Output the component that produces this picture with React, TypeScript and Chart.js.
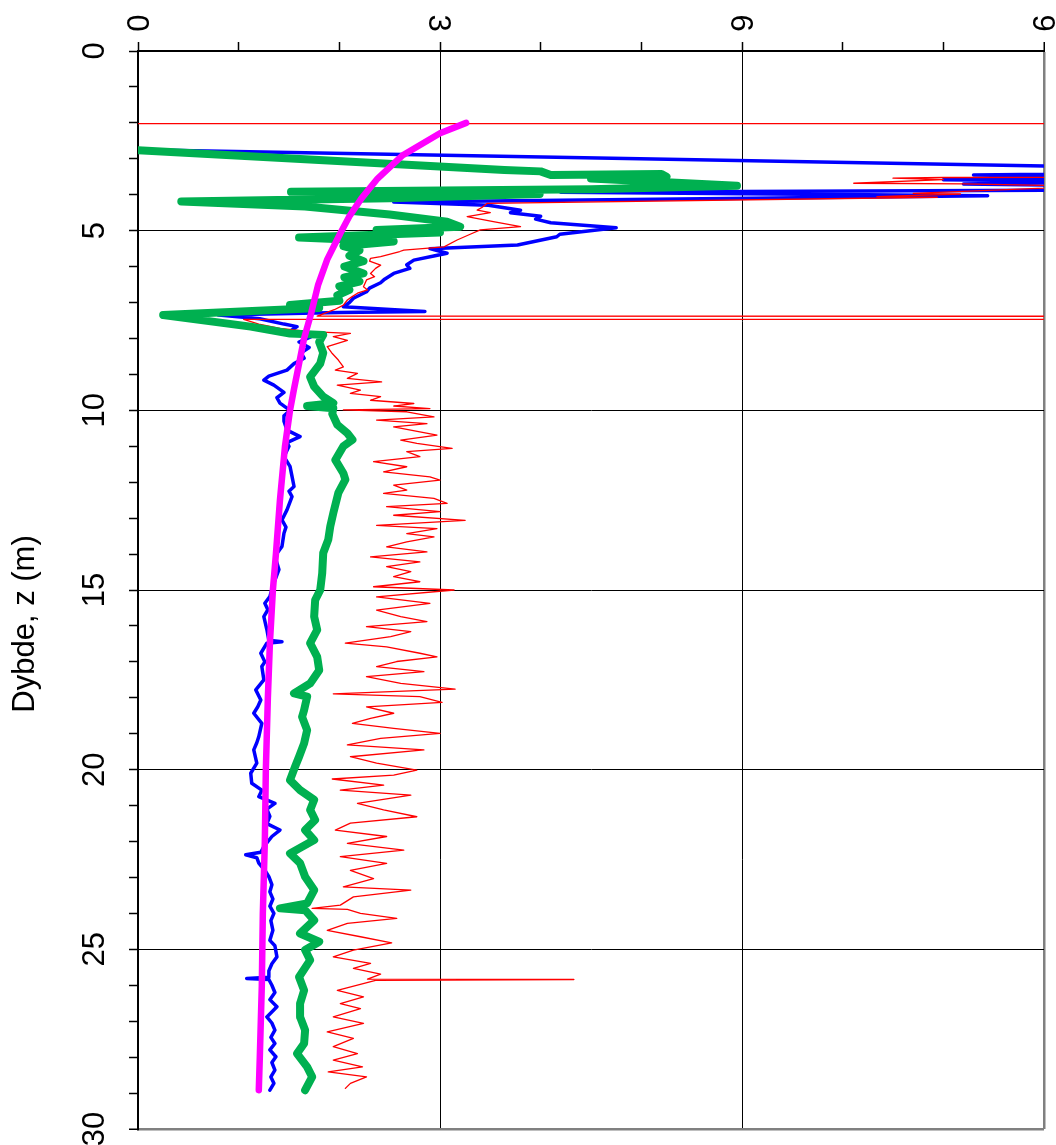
import React, { useEffect, useRef } from "react";
import { Chart, registerables } from "chart.js";

Chart.register(...registerables);

// ---- tick labels / title ----
const xTickLabels = [0, 3, 6, 9];
const yTickLabels = [0, 5, 10, 15, 20, 25, 30];
const yTitle = "Dybde, z (m)";

// ---- blue series ----
const blueValue = [
  0, 12, 8.3, 9.6, 8.0, 9.8, 8.2, 10, 10, 4.2, 8.44, 2.54, 3.48, 3.8, 3.7, 4.0, 3.95, 4.1, 4.75, 4.19, 4.16, 3.77,
  2.9, 3.07, 2.95, 2.74, 2.67, 2.7, 2.54, 2.45, 2.41, 2.3, 2.27, 2.14, 2.1, 2.04, 2.85, 2.0, 0.8, 1.21, 1.45,
  1.58, 1.51, 1.72, 1.6, 1.7, 1.62, 1.65, 1.55, 1.48, 1.3, 1.25, 1.35, 1.45, 1.38, 1.41, 1.51, 1.45, 1.45,
  1.48, 1.61, 1.48, 1.5, 1.45, 1.51, 1.53, 1.55, 1.5, 1.53, 1.48, 1.43, 1.47, 1.45, 1.43, 1.36, 1.4, 1.35,
  1.31, 1.26, 1.29, 1.25, 1.28, 1.3, 1.43, 1.28, 1.22, 1.26, 1.23, 1.25, 1.17, 1.22, 1.19, 1.15, 1.23, 1.2,
  1.18, 1.15, 1.18, 1.12, 1.13, 1.23, 1.2, 1.36, 1.28, 1.31, 1.28, 1.41, 1.33, 1.25, 1.22, 1.07, 1.18, 1.2,
  1.26, 1.3, 1.33, 1.31, 1.34, 1.31, 1.35, 1.32, 1.34, 1.31, 1.36, 1.38, 1.33, 1.3, 1.3, 1.08, 1.3, 1.33,
  1.36, 1.31, 1.38, 1.28, 1.33, 1.36, 1.32, 1.36, 1.31, 1.37, 1.33, 1.36, 1.32, 1.35, 1.31,
];
const blueDepth = [
  2.75, 3.35, 3.45, 3.5, 3.58, 3.63, 3.7, 3.77, 3.86, 3.93, 4.03, 4.2, 4.29, 4.43, 4.5, 4.6, 4.68, 4.78, 4.92, 5.1,
  5.17, 5.4, 5.5, 5.63, 5.7, 5.82, 5.95, 6.05, 6.19, 6.35, 6.45, 6.6, 6.7, 6.88, 7.0, 7.12, 7.25, 7.28, 7.35,
  7.45, 7.6, 7.67, 7.8, 7.95, 8.1, 8.25, 8.4, 8.55, 8.7, 8.88, 9.05, 9.16, 9.3, 9.5, 9.65, 9.8, 10.0, 10.15,
  10.3, 10.55, 10.73, 10.9, 11.0, 11.29, 11.56, 11.84, 12.12, 12.25, 12.4, 12.77, 13.05, 13.25, 13.42, 13.79,
  14.06, 14.43, 14.8, 15.18, 15.37, 15.55, 15.74, 16.1, 16.4, 16.44, 16.48, 16.76, 17.0, 17.13, 17.5, 17.78,
  18.06, 18.25, 18.43, 18.71, 19.08, 19.25, 19.45, 19.82, 20.1, 20.38, 20.57, 20.75, 20.94, 21.1, 21.3, 21.5,
  21.68, 21.86, 22.14, 22.3, 22.37, 22.45, 22.6, 22.8, 22.98, 23.2, 23.4, 23.6, 23.8, 24.0, 24.2, 24.47, 24.75,
  24.9, 25.21, 25.4, 25.6, 25.78, 25.81, 25.84, 26.0, 26.2, 26.4, 26.6, 26.88, 27.05, 27.25, 27.45, 27.62,
  27.8, 27.99, 28.15, 28.36, 28.55, 28.73, 28.92,
];

// ---- green series ----
const greenValue = [
  0, 3.64, 4.0, 4.1, 5.2, 5.25, 4.5, 5.95, 4.5, 1.52, 3.99, 2.5, 0.43, 1.66, 2.5, 3.07, 3.2, 2.37, 3.0, 1.6,
  2.54, 2.04, 2.2, 2.1, 2.24, 2.05, 2.24, 2.05, 2.2, 2.0, 2.1, 1.98, 2.0, 1.51, 1.8, 0.25, 1.12, 1.51, 1.84,
  1.8, 1.84, 1.81, 1.71, 1.75, 1.84, 1.94, 1.68, 1.94, 1.93, 1.98, 2.08, 2.13, 2.04, 1.96, 2.04, 2.06, 1.99,
  1.94, 1.91, 1.89, 1.84, 1.83, 1.81, 1.76, 1.75, 1.78, 1.71, 1.78, 1.8, 1.71, 1.55, 1.68, 1.65, 1.63, 1.68,
  1.65, 1.6, 1.56, 1.51, 1.61, 1.75, 1.71, 1.76, 1.66, 1.75, 1.51, 1.61, 1.66, 1.75, 1.68, 1.41, 1.66, 1.75,
  1.61, 1.8, 1.66, 1.71, 1.6, 1.65, 1.61, 1.61, 1.66, 1.65, 1.58, 1.68, 1.73, 1.66,
];
const greenDepth = [
  2.76, 3.31, 3.35, 3.45, 3.42, 3.5, 3.55, 3.75, 3.85, 3.92, 3.98, 4.1, 4.19, 4.33, 4.55, 4.75, 4.89, 4.98,
  5.05, 5.19, 5.3, 5.43, 5.55, 5.7, 5.85, 6.0, 6.19, 6.3, 6.42, 6.55, 6.65, 6.8, 6.95, 7.07, 7.15, 7.35, 7.67,
  7.86, 7.9, 8.1, 8.4, 8.7, 9.07, 9.34, 9.62, 9.8, 9.88, 9.94, 10.1, 10.4, 10.64, 10.82, 11.0, 11.38, 11.75,
  11.93, 12.3, 12.86, 13.23, 13.6, 13.97, 14.53, 15.0, 15.28, 15.74, 16.11, 16.48, 16.86, 17.23, 17.6, 17.88,
  17.97, 18.34, 18.53, 18.9, 19.27, 19.64, 19.92, 20.29, 20.57, 20.84, 21.12, 21.4, 21.68, 21.96, 22.33,
  22.6, 22.98, 23.35, 23.72, 23.86, 23.91, 24.19, 24.56, 24.79, 25.02, 25.3, 25.77, 26.14, 26.51, 26.88,
  27.25, 27.62, 27.9, 28.27, 28.55, 28.92,
];

// ---- red series ----
const redValue = [
  0, 40, 40, 8.0, 7.5, 8.0, 7.11, 8.2, 9.5, 7.7, 8.17, 7.34, 7.94, 3.47, 3.42, 3.37, 3.5, 3.27, 3.4, 3.53, 3.8,
  3.4, 3.3, 3.17, 3.04, 2.64, 2.6, 2.41, 2.31, 2.3, 2.41, 2.36, 2.31, 2.35, 2.27, 2.24, 2.28, 2.18, 2.12, 2.08,
  2.04, 1.95, 1.78, 40, 40, 1.05, 1.2, 1.41, 1.71, 2.11, 1.94, 2.08, 1.88, 1.93, 1.99, 2.04, 1.96, 2.18, 2.08,
  2.42, 1.98, 2.21, 2.11, 2.41, 2.31, 2.74, 2.54, 2.9, 2.04, 2.67, 2.94, 2.37, 2.87, 2.54, 2.8, 2.97, 2.61,
  2.77, 3.12, 2.67, 2.8, 2.34, 2.67, 2.44, 2.9, 3.0, 2.54, 2.67, 2.44, 2.94, 3.07, 2.47, 3.0, 2.54, 3.25, 2.37,
  2.97, 2.67, 2.94, 2.67, 2.47, 2.87, 2.31, 2.8, 2.47, 2.71, 2.54, 2.8, 2.34, 3.14, 2.37, 2.9, 2.37, 2.61,
  2.87, 2.27, 2.71, 2.51, 2.06, 2.47, 2.8, 2.97, 2.57, 2.37, 2.84, 2.27, 2.61, 3.15, 1.94, 2.8, 3.02, 2.27,
  2.54, 2.31, 2.13, 2.54, 3.0, 2.41, 2.08, 2.84, 2.11, 2.37, 2.77, 2.54, 1.93, 2.44, 2.01, 2.71, 2.18, 2.44,
  2.77, 2.11, 1.96, 2.47, 2.08, 2.64, 2.01, 2.47, 2.11, 2.34, 2.04, 2.71, 2.14, 2.01, 1.73, 2.08, 2.21, 2.57,
  2.08, 1.88, 2.21, 2.52, 2.14, 1.94, 2.31, 2.14, 2.41, 2.28, 4.33, 2.37, 1.98, 2.24, 2.01, 2.21, 1.94, 2.24,
  1.88, 2.14, 1.94, 2.18, 1.94, 2.23, 1.89, 2.27, 2.11, 2.06,
];
const redDepth = [
  2.02, 2.03, 3.4, 3.52, 3.54, 3.58, 3.68, 3.7, 3.76, 3.96, 3.98, 4.05, 4.07, 4.24, 4.35, 4.43, 4.5, 4.61,
  4.68, 4.75, 4.89, 4.98, 5.1, 5.26, 5.45, 5.54, 5.58, 5.72, 5.77, 5.85, 5.96, 6.05, 6.19, 6.28, 6.37, 6.56,
  6.65, 6.74, 6.85, 6.93, 7.07, 7.2, 7.38, 7.39, 7.45, 7.47, 7.6, 7.72, 7.81, 7.86, 7.95, 8.05, 8.23, 8.42,
  8.6, 8.79, 8.88, 8.97, 9.11, 9.21, 9.3, 9.44, 9.53, 9.62, 9.72, 9.81, 9.88, 9.95, 9.99, 10.04, 10.18,
  10.27, 10.37, 10.46, 10.6, 10.69, 10.83, 10.92, 11.06, 11.15, 11.29, 11.43, 11.57, 11.71, 11.85, 11.94,
  12.08, 12.22, 12.31, 12.45, 12.59, 12.68, 12.82, 12.92, 13.06, 13.2, 13.29, 13.43, 13.52, 13.66, 13.8,
  13.94, 14.08, 14.22, 14.35, 14.49, 14.63, 14.77, 14.91, 15.0, 15.19, 15.37, 15.56, 15.74, 15.88, 16.02,
  16.16, 16.3, 16.48, 16.58, 16.76, 16.86, 16.99, 17.13, 17.27, 17.41, 17.6, 17.76, 17.89, 17.97, 18.13,
  18.25, 18.43, 18.57, 18.71, 18.85, 18.99, 19.13, 19.31, 19.45, 19.64, 19.82, 20.01, 20.15, 20.26, 20.43,
  20.57, 20.71, 20.94, 21.12, 21.31, 21.49, 21.68, 21.86, 22.05, 22.24, 22.42, 22.61, 22.8, 23.03, 23.26,
  23.35, 23.54, 23.77, 23.86, 23.89, 24.0, 24.14, 24.28, 24.47, 24.65, 24.82, 25.02, 25.21, 25.39, 25.53,
  25.69, 25.83, 25.84, 25.86, 26.14, 26.32, 26.51, 26.65, 26.88, 27.06, 27.3, 27.48, 27.71, 27.9, 28.08,
  28.27, 28.41, 28.55, 28.73, 28.87,
];

// ---- magenta (smooth) series ----
const magentaValue = [
  3.26, 3.0, 2.63, 2.38, 2.22, 2.1, 2.01, 1.88, 1.79, 1.72, 1.65, 1.6, 1.55, 1.51, 1.46, 1.41, 1.37, 1.34,
  1.31, 1.29, 1.27, 1.26, 1.24, 1.23, 1.21, 1.2,
];
const magentaDepth = [
  2.0, 2.29, 2.9, 3.55, 4.1, 4.6, 5.07, 5.8, 6.5, 7.3, 8.0, 8.7, 9.4, 10.0, 11.0, 12.5, 14.0, 15.0, 16.5,
  18.0, 20.0, 22.0, 24.0, 26.0, 28.0, 28.92,
];

const toPoints = (vals: number[], depths: number[]) =>
  depths.map((d, i) => ({ x: vals[i], y: d }));

const FONT = '31px "Liberation Sans", Arial, sans-serif';

const labelPlugin = {
  id: "rotatedLabels",
  afterDraw(chart: any) {
    const ctx = chart.ctx;
    const xs = chart.scales.x;
    const ys = chart.scales.y;
    ctx.save();
    ctx.fillStyle = "#000";
    ctx.font = FONT;
    ctx.textAlign = "center";
    ctx.textBaseline = "alphabetic";
    xTickLabels.forEach((v) => {
      const px = xs.getPixelForValue(v);
      ctx.save();
      ctx.translate(px - 11, xs.top + 23);
      ctx.rotate(Math.PI / 2);
      ctx.fillText(String(v), 0, 0);
      ctx.restore();
    });
    yTickLabels.forEach((v) => {
      const py = ys.getPixelForValue(v);
      ctx.save();
      ctx.translate(103.5, py);
      ctx.rotate(-Math.PI / 2);
      ctx.fillText(String(v), 0, 0);
      ctx.restore();
    });
    ctx.save();
    ctx.translate(33.5, (ys.top + ys.bottom) / 2 + 34);
    ctx.rotate(-Math.PI / 2);
    ctx.fillText(yTitle, 0, 0);
    ctx.restore();
    ctx.restore();
  },
};

export default function App() {
  const canvasRef = useRef<HTMLCanvasElement | null>(null);

  useEffect(() => {
    if (!canvasRef.current) return;
    const line = (label: string, vals: number[], depths: number[], color: string, width: number) => ({
      label,
      data: toPoints(vals, depths),
      showLine: true,
      borderColor: color,
      backgroundColor: color,
      borderWidth: width,
      pointRadius: 0,
      pointHoverRadius: 0,
      tension: 0,
      borderCapStyle: "round",
      borderJoinStyle: "round",
    });
    const chart = new Chart(canvasRef.current, {
      type: "scatter",
      data: {
        datasets: [
          line("magenta", magentaValue, magentaDepth, "#FF00FF", 6.5),
          line("green", greenValue, greenDepth, "#00B050", 8),
          line("red", redValue, redDepth, "#FF0000", 1.3),
          line("blue", blueValue, blueDepth, "#0000FF", 3.5),
        ] as any,
      },
      options: {
        animation: false,
        responsive: false,
        events: [],
        layout: { padding: { left: 0, top: 0, right: 12, bottom: 16 } },
        plugins: { legend: { display: false }, tooltip: { enabled: false } },
        scales: {
          x: {
            type: "linear",
            position: "top",
            min: 0,
            max: 9,
            ticks: { stepSize: 1, display: false, autoSkip: false, maxTicksLimit: 100 },
            grid: {
              drawTicks: true,
              tickLength: 9,
              tickColor: "#000",
              tickWidth: 1.5,
              color: (c: any) => {
                const v = c.tick ? c.tick.value : -1;
                if (v === 9) return "#808080";
                if (v === 3 || v === 6) return "#000";
                return "rgba(0,0,0,0)";
              },
              lineWidth: (c: any) => (c.tick && c.tick.value === 9 ? 2.5 : 1),
            },
            border: { display: true, color: "#000", width: 2 },
            afterFit: (s: any) => {
              s.height = 51;
            },
          },
          y: {
            type: "linear",
            position: "left",
            reverse: true,
            min: 0,
            max: 30,
            ticks: { stepSize: 1, display: false, autoSkip: false, maxTicksLimit: 100 },
            grid: {
              drawTicks: true,
              tickLength: 9,
              tickColor: "#000",
              tickWidth: 1.5,
              color: (c: any) => {
                const v = c.tick ? c.tick.value : -1;
                if (v === 30) return "#808080";
                if (v > 0 && v % 5 === 0) return "#000";
                return "rgba(0,0,0,0)";
              },
              lineWidth: (c: any) => (c.tick && c.tick.value === 30 ? 2.5 : 1),
            },
            border: { display: true, color: "#000", width: 2 },
            afterFit: (s: any) => {
              s.width = 138;
            },
          },
        },
      } as any,
      plugins: [labelPlugin],
    });
    return () => chart.destroy();
  }, []);

  return (
    <div style={{ position: "absolute", left: 0, top: 0, width: 1056, height: 1145, background: "#fff" }}>
      <canvas ref={canvasRef} width={1056} height={1145} style={{ display: "block" }} />
    </div>
  );
}
